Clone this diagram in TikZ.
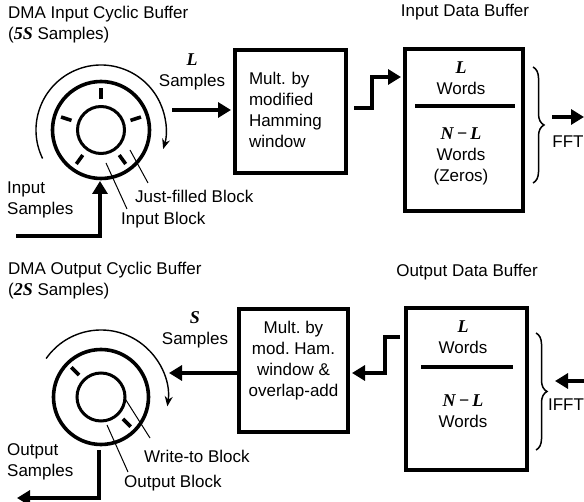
\documentclass[tikz,border=0pt]{standalone}
\usepackage{fontspec}
\setmainfont{Liberation Sans}
\newfontfamily\varfont{Liberation Serif}
\usetikzlibrary{arrows.meta,positioning,decorations.pathreplacing}
\newcommand{\var}[1]{{\varfont\fontsize{18}{20.5}\selectfont\bfseries\itshape #1}}
\frenchspacing

\begin{document}
\begin{tikzpicture}[
  x=1pt, y=-1pt,
  every node/.style={font=\fontsize{17}{21}\selectfont, inner sep=0pt},
  blk/.style={draw, line width=4pt},
  fat/.style={-{Triangle[length=13pt,width=15pt]}, line width=3.6pt},
  turn/.style={-{Stealth[length=10pt,width=8pt]}, line width=1.4pt},
  ring/.style={line width=3.6pt},
  slot/.style={line width=3.6pt},
  lead/.style={line width=1pt},
  brc/.style={decorate, decoration={brace, amplitude=11pt}, line width=1.5pt}
]
\useasboundingbox (0,0) rectangle (584,502);

% ---- input side
\node[anchor=north west, align=left] (intitle) at (8,6) {DMA Input Cyclic Buffer\\(\var{5S} Samples)};
\coordinate (cin) at (101,130);
\draw[ring] (cin) circle[radius=48.5];
\draw[line width=3pt] (cin) circle[radius=23.5];
\foreach \a in {54,126,198,270,342}
  \draw[slot, shift={(cin)}] (\a:31) -- (\a:42);
\draw[turn, shift={(cin)}] (-206:65) arc[start angle=-206, end angle=17, radius=65];

\node[align=center] (lsamp) at (192,72) {\var{L}\\Samples};
\node[blk, minimum width=111, minimum height=123] (mult1) at (290.5,111.5) {};
\node[align=left, text width=86] (mult1txt) at (292,110) {Mult. by\\modified\\Hamming\\window};
\coordinate (lstart) at (172,110);
\draw[fat, shorten >=2pt] (lstart) -- (mult1.west |- lstart);

\node[anchor=south] (inbuftitle) at (465,20) {Input Data Buffer};
\node[blk, minimum width=118, minimum height=162] (inbuf) at (464,130) {};
\draw[line width=4pt] (415,106) coordinate (d1a) -- (515,106) coordinate (d1b);
\node[align=center] (inL) at (461,78) {\var{L}\\Words};
\node[align=center] (inNL) at (461,156) {\var{N\,\textminus\,L}\\Words\\(Zeros)};
\coordinate (st1) at (354,108);
\coordinate (st1up) at (372,77);
\draw[fat, shorten >=2pt] (st1) -| (st1up) -- (inbuf.west |- st1up);

\coordinate (br1a) at (533,67);
\coordinate (br1b) at (533,183);
\draw[brc] (br1a) -- (br1b);
\coordinate (fftstart) at (552,117);
\draw[fat] (fftstart) -- (584,117);
\node (fft) at (568,142) {FFT};

\node[align=left, anchor=north west] (insamp) at (7,182) {Input\\Samples};
\coordinate (inend) at (100,181);
\draw[fat] (16,236) -| (inend);
\node[anchor=base west] (justfilled) at (135,203) {Just-filled Block};
\node[anchor=base west] (inblock) at (121,225) {Input Block};
\coordinate (jfp) at (130,150);
\coordinate (jfq) at (148,183);
\draw[lead] (jfp) -- (jfq);
\coordinate (ibp) at (106,163);
\coordinate (ibq) at (127,209);
\draw[lead] (ibp) -- (ibq);

% ---- output side
\node[anchor=north west, align=left] (outtitle) at (8,262) {DMA Output Cyclic Buffer\\(\var{2S} Samples)};
\coordinate (cout) at (101,397);
\draw[ring] (cout) circle[radius=47.5];
\draw[line width=3pt] (cout) circle[radius=24];
\foreach \a in {45,225}
  \draw[slot, shift={(cout)}] (\a:31) -- (\a:42);
\draw[turn, shift={(cout)}] (-145:67) arc[start angle=-145, end angle=8, radius=67];

\node[align=center] (ssamp) at (195,330) {\var{S}\\Samples};
\node[blk, minimum width=109, minimum height=123] (mult2) at (293.5,370.5) {};
\node[align=center] (mult2txt) at (293.5,361) {Mult. by\\mod. Ham.\\window \&\\overlap-add};
\draw[fat, shorten >=2pt] (mult2.west |- 0,373) -- (167,373) coordinate (sto);

\node[anchor=south] (outbuftitle) at (467,280) {Output Data Buffer};
\node[blk, minimum width=121, minimum height=162] (outbuf) at (466.5,389) {};
\draw[line width=4pt] (421,367) coordinate (d2a) -- (513,367) coordinate (d2b);
\node[align=center] (outL) at (463,337) {\var{L}\\Words};
\node[align=center] (outNL) at (463,411) {\var{N\,\textminus\,L}\\Words};
\coordinate (st2) at (400,337);
\coordinate (st2dn) at (385,373);
\draw[fat, shorten >=2pt] (st2) -| (st2dn) -- (mult2.east |- st2dn);

\coordinate (br2a) at (536,333);
\coordinate (br2b) at (536,450);
\draw[brc] (br2a) -- (br2b);
\coordinate (ifftstart) at (584,381);
\draw[fat] (ifftstart) -- (555,381);
\node (ifft) at (566,405) {IFFT};

\node[align=left, anchor=north west] (outsamp) at (7,443) {Output\\Samples};
\coordinate (outstart) at (99,450);
\draw[fat] (outstart) |- (17,498);
\node[anchor=base west] (writeto) at (144,463) {Write-to Block};
\node[anchor=base west] (outblock) at (124,488) {Output Block};
\coordinate (wtp) at (124,397);
\coordinate (wtq) at (150,438);
\draw[lead] (wtp) -- (wtq);
\coordinate (obp) at (107,425);
\coordinate (obq) at (128,472);
\draw[lead] (obp) -- (obq);
\end{tikzpicture}
\end{document}
